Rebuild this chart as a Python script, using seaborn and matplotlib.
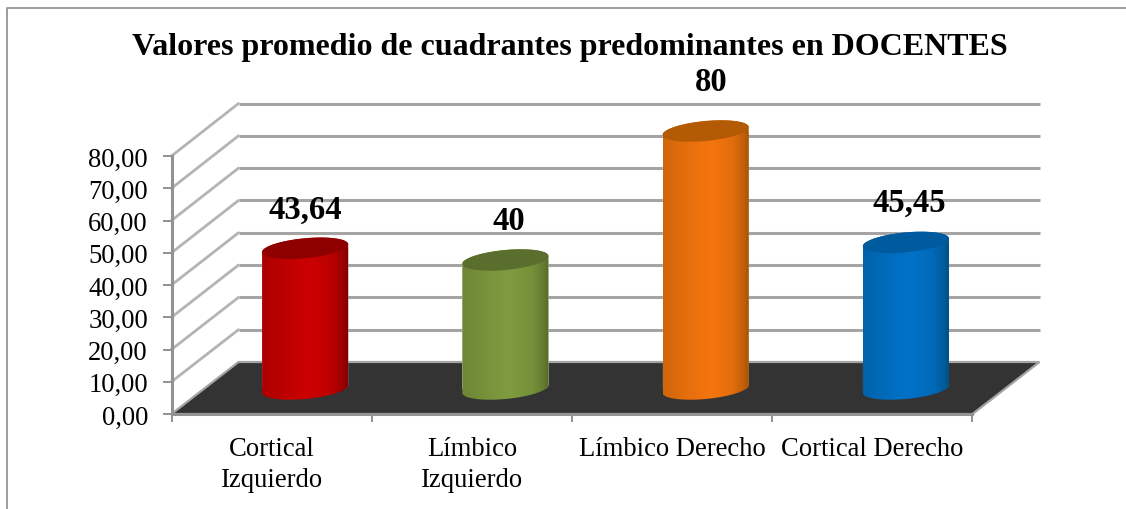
import numpy as np
import pandas as pd
import seaborn as sns
import matplotlib.pyplot as plt
from matplotlib.colors import LinearSegmentedColormap
from matplotlib.lines import Line2D
from matplotlib.patches import ConnectionPatch, PathPatch, Polygon
from matplotlib.path import Path
from matplotlib.transforms import IdentityTransform

# data
categories = ["Cortical\nIzquierdo", "Límbico\nIzquierdo", "Límbico Derecho", "Cortical Derecho"]
values = [43.64, 40, 80, 45.45]
value_labels = ["43,64", "40", "80", "45,45"]
y_ticks = [0, 10, 20, 30, 40, 50, 60, 70, 80]
y_tick_labels = ["0,00", "10,00", "20,00", "30,00", "40,00", "50,00", "60,00", "70,00", "80,00"]
title = "Valores promedio de cuadrantes predominantes en DOCENTES"

# colours
bar_colors = ["#cc0000", "#7f9b3f", "#f5750e", "#0072c8"]
edge_colors = ["#6e0000", "#4f6025", "#8f4a06", "#004673"]
top_colors = ["#8e0000", "#5a6e2d", "#b35a05", "#005a9e"]
grid_color = "#a4a4a4"
floor_color = "#333333"

W, H = 1126, 510
sns.set_theme(style="white")
plt.rcParams["font.family"] = ["Liberation Serif", "DejaVu Serif"]

fig = plt.figure(figsize=(W / 100, H / 100), dpi=100, facecolor="white")


def box(x0, y0, x1, y1):
    return [x0 / W, 1 - y1 / H, (x1 - x0) / W, (y1 - y0) / H]


# three copies of the same axes: back wall, front axis, bars half way in depth
x0, x1, y_top, y_bot = 171.5, 972.5, 157, 415
ax_back = fig.add_axes(box(x0 + 67, y_top - 52.5, x1 + 67, y_bot - 52), zorder=1)
ax = fig.add_axes(box(x0, y_top, x1, y_bot), zorder=3)
ax_bar = fig.add_axes(box(x0 + 33.5, y_top - 25, x1 + 33.5, y_bot - 25), zorder=4)

for a in (ax_back, ax, ax_bar):
    a.set_xlim(-0.5, 3.5)
    a.set_ylim(0, 80)
    a.patch.set_alpha(0)
    for s in a.spines.values():
        s.set_visible(False)

# back wall
ax_back.hlines(y_ticks[1:], -0.5, 3.5, color=grid_color, lw=2.2, clip_on=False)
ax_back.set_xticks([])
ax_back.set_yticks([])

# side wall
for v in y_ticks[1:]:
    fig.add_artist(ConnectionPatch((-0.5, v), (-0.5, v), coordsA=ax.transData, coordsB=ax_back.transData,
                                   color="#b4b4b4", lw=2, zorder=2))

# floor
corners = [ax.transData.transform((-0.5, 0)), ax.transData.transform((3.5, 0)),
           ax_back.transData.transform((3.5, 0)), ax_back.transData.transform((-0.5, 0))]
fig.add_artist(Polygon(corners, closed=True, facecolor=floor_color, edgecolor=grid_color, lw=1.6,
                       transform=IdentityTransform(), zorder=2))

# front axis
ax.spines["left"].set_visible(True)
ax.spines["bottom"].set_visible(True)
for side in ("left", "bottom"):
    ax.spines[side].set_color("#929292")
    ax.spines[side].set_linewidth(2.2)
ax.set_yticks(y_ticks)
ax.set_yticklabels(y_tick_labels, fontsize=19.2, color="black")
ax.set_xticks(np.arange(-0.5, 4, 1))
ax.set_xticklabels([])
ax.set_xticks(range(len(categories)), minor=True)
ax.set_xticklabels(categories, minor=True, fontsize=19.2, color="black", linespacing=1.3)
ax.tick_params(axis="y", left=True, length=6.5, width=1.4, color="#929292", pad=10.5)
ax.tick_params(axis="x", which="major", bottom=True, length=6, width=1.4, color="#929292")
ax.tick_params(axis="x", which="minor", bottom=False, length=0, pad=16)
for lab in ax.get_xticklabels(minor=True):
    lab.set_verticalalignment("top")

# bars
df = pd.DataFrame({"cuadrante": categories, "valor": values})
sns.barplot(data=df, x="cuadrante", y="valor", hue="cuadrante", palette=bar_colors, legend=False,
            width=0.43, saturation=1, ax=ax_bar)
ax_bar.set_xlabel("")
ax_bar.set_ylabel("")
ax_bar.set_xticks([])
ax_bar.set_yticks([])
bars = list(ax_bar.patches)

t = np.linspace(0, 2 * np.pi, 120)
shade_x = [0, 0.1, 0.35, 0.55, 0.8, 0.93, 1]
shade_f = [0.35, 0.28, 0.1, 0, 0.18, 0.5, 0.85]
ry, tilt = 3.1, 1.2  # ellipse, in data units

for i, patch in enumerate(bars):
    cx = patch.get_x() + patch.get_width() / 2
    hw = patch.get_width() / 2
    top = patch.get_height()
    ex = cx + hw * np.cos(t)

    # body: lower half of the base ellipse, upper half of the top one
    low = np.linspace(np.pi, 2 * np.pi, 60)
    up = np.linspace(0, np.pi, 60)
    px = np.r_[cx + hw * np.cos(low), cx + hw * np.cos(up)]
    py = np.r_[ry * np.sin(low) + tilt * np.cos(low), top + ry * np.sin(up) + tilt * np.cos(up)]
    clip = PathPatch(Path(np.c_[px, py]), transform=ax_bar.transData)
    patch.set_clip_path(clip)

    cmap = LinearSegmentedColormap.from_list("c", [bar_colors[i], edge_colors[i]])
    grad = np.interp(np.linspace(0, 1, 200), shade_x, shade_f)[None, :]
    im = ax_bar.imshow(grad, cmap=cmap, vmin=0, vmax=1, aspect="auto", zorder=3,
                       extent=[cx - hw, cx + hw, -6, top + 6], interpolation="bilinear")
    im.set_clip_box(fig.bbox)
    im.set_clip_path(clip)

    # top face
    ax_bar.add_patch(Polygon(np.c_[ex, top + ry * np.sin(t) + tilt * np.cos(t)], closed=True,
                             facecolor=top_colors[i], edgecolor="none", zorder=4, clip_on=False))

ax_bar.set_xlim(-0.5, 3.5)
ax_bar.set_ylim(0, 80)

# value labels
label_dx = [0, 3, 6, 3]
label_dy = [39, 39, 49, 40]
for i, patch in enumerate(bars):
    ax_bar.annotate(value_labels[i], (patch.get_x() + patch.get_width() / 2, patch.get_height()),
                    xytext=(label_dx[i], label_dy[i]), textcoords="offset pixels", ha="center", va="center",
                    fontsize=23.5, fontweight="bold", color="black", annotation_clip=False)

fig.text(570 / W, 1 - 47.5 / H, title, ha="center", va="center", fontsize=23, fontweight="bold", color="black")

# chart frame
fig.add_artist(Line2D([7.5 / W, 7.5 / W, 1], [0, 1 - 8.5 / H, 1 - 8.5 / H], color="#8c8c8c", lw=1.2))

fig.savefig("out.png", dpi=100)
